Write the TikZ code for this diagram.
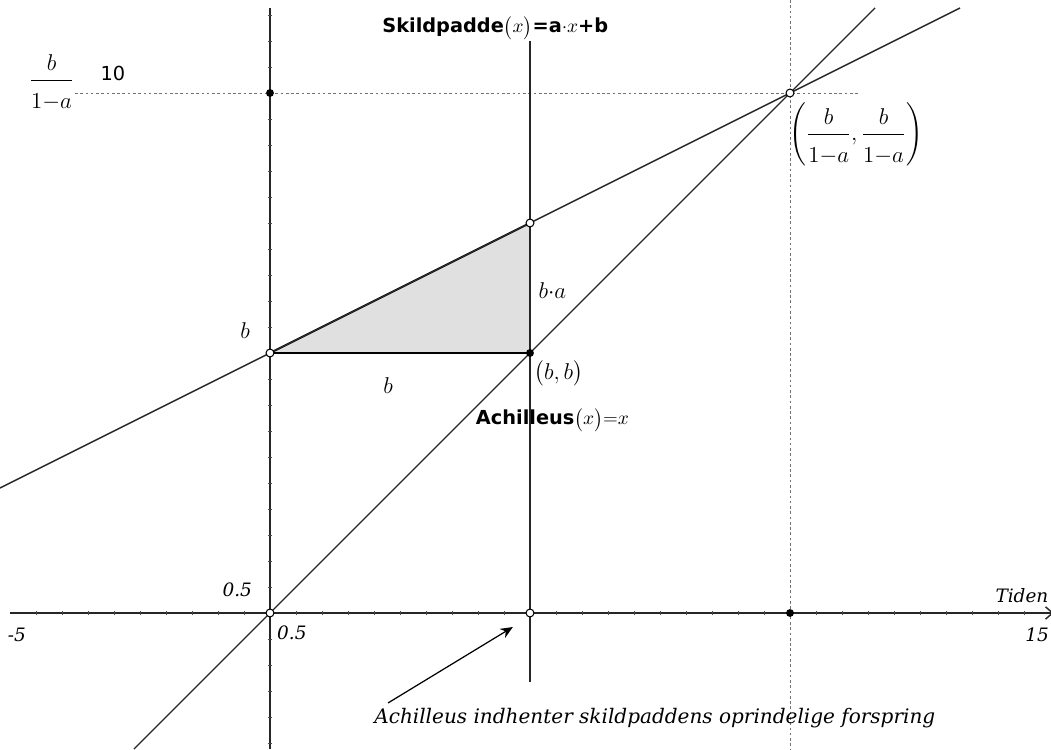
\RequirePackage{fix-cm}
\documentclass[tikz,border=0pt]{standalone}
\usepackage{amsmath}
\usepackage{fontspec}
\setsansfont{DejaVu Sans}
\newfontfamily\skrift{DejaVu Serif}
\usetikzlibrary{arrows.meta,positioning}
\tikzset{
  graf/.style={black!85, line width=0.8pt},
  hjaelp/.style={black!55, line width=0.5pt, dash pattern=on 1.5pt off 1.5pt},
  fyldt/.style={circle, fill=black, inner sep=0pt, minimum size=4.5pt},
  aaben/.style={circle, draw=black, fill=white, line width=0.6pt, inner sep=0pt, minimum size=4.5pt},
  lbl/.style={inner sep=1pt, font=\fontsize{13}{15}\selectfont},
  navn/.style={inner sep=1pt, anchor=west, font=\fontsize{11}{13}\selectfont},
  tal/.style={inner sep=1pt, font=\fontsize{10.5}{12}\selectfont\skrift\itshape},
}
\newcommand{\brk}{\dfrac{b}{\rule{0pt}{14pt}1{-}a}}
\begin{document}
\begin{tikzpicture}[x=1.04cm,y=1.04cm]
  \useasboundingbox (-5.1923,-2.6154) rectangle (15.0192,11.7885);

  % hjaelpelinjer
  \coordinate (h1) at (-3.75,10);
  \coordinate (h2) at (11.35,10);
  \coordinate (v1) at (10,11.7885);
  \coordinate (v2) at (10,-2.6154);
  \draw[hjaelp] (h1) -- (h2);
  \draw[hjaelp] (v1) -- (v2);

  % trekanten
  \coordinate (T1) at (0,5);
  \coordinate (T2) at (5,5);
  \coordinate (T3) at (5,7.5);
  \fill[black!12] (T1) -- (T2) -- (T3) -- cycle;
  \draw[black, line width=1.1pt] (T3) -- (T1) -- (T2);

  % akser
  \coordinate (xa) at (-5,0);
  \coordinate (xb) at (15.07,0);
  \coordinate (ya) at (0,-2.6154);
  \coordinate (yb) at (0,11.635);
  \draw[graf,-{Straight Barb[length=4pt,width=7pt]}] (xa) -- (xb);
  \draw[graf] (ya) -- (yb);
  \foreach \t in {-9,...,-1,1,2,...,29}
    \draw[black!70, line width=0.4pt] (\t/2,-0.04) -- (\t/2,0.04);
  \foreach \t in {-5,...,-1,1,2,...,23}
    \draw[black!70, line width=0.4pt] (-0.04,\t/2) -- (0.04,\t/2);

  % graferne
  \coordinate (a1) at (-2.6154,-2.6154);
  \coordinate (a2) at (11.635,11.635);
  \coordinate (s1) at (-5.1923,2.4038);
  \coordinate (s2) at (13.27,11.635);
  \coordinate (l1) at (5,11.0);
  \coordinate (l2) at (5,-1.33);
  \draw[graf] (a1) -- (a2);
  \draw[graf] (s1) -- (s2);
  \draw[graf] (l1) -- (l2);

  % punkter
  \node[aaben] (P0) at (0,0) {};
  \node[aaben] (Pb) at (0,5) {};
  \node[aaben] (Pba) at (5,7.5) {};
  \node[aaben] (Px) at (5,0) {};
  \node[aaben] (S) at (10,10) {};
  \node[fyldt] (Q10) at (0,10) {};
  \node[fyldt] (bb) at (5,5) {};
  \node[fyldt] (X10) at (10,0) {};

  % tekster
  \node[lbl] (brok) at (-4.2,10.2) {$\brk$};
  \node[lbl, font=\fontsize{11}{13}\selectfont\sffamily] (ti) at (-3.02,10.38) {10};
  \node[navn] (skild) at (2.12,11.25)
    {\textsf{\textbf{Skildpadde}}$\bigl(x\bigr)$\textsf{\textbf{=a}}${\cdot}x$\textsf{\textbf{+b}}};
  \node[navn] (achil) at (3.92,3.71)
    {\textsf{\textbf{Achilleus}}$\bigl(x\bigr)$=$x$};
  \node[lbl, anchor=north west] (skp) at (9.95,9.85) {$\left(\brk,\brk\right)$};
  \node[lbl] (ba) at (5.43,6.21) {$b{\cdot}a$};
  \node[lbl] (bbt) at (5.55,4.6) {$\bigl(b,b\bigr)$};
  \node[lbl] (b1) at (-0.48,5.44) {$b$};
  \node[lbl] (b2) at (2.27,4.38) {$b$};
  \node[tal] (y05) at (-0.63,0.44) {0.5};
  \node[tal] (x05) at (0.42,-0.38) {0.5};
  \node[tal] (tid) at (14.46,0.33) {Tiden};
  \node[tal] (x15) at (14.75,-0.42) {15};
  \node[tal] (xm5) at (-4.87,-0.42) {-5};
  \node[tal, font=\fontsize{11.4}{13}\selectfont\skrift\itshape] (tekst) at (7.4,-2.02)
    {Achilleus indhenter skildpaddens oprindelige forspring};

  \coordinate (pil1) at (2.27,-1.73);
  \coordinate (pil2) at (4.67,-0.27);
  \draw[black, line width=0.7pt, -{Stealth[length=7pt,width=6pt]}] (pil1) -- (pil2);
\end{tikzpicture}
\end{document}
